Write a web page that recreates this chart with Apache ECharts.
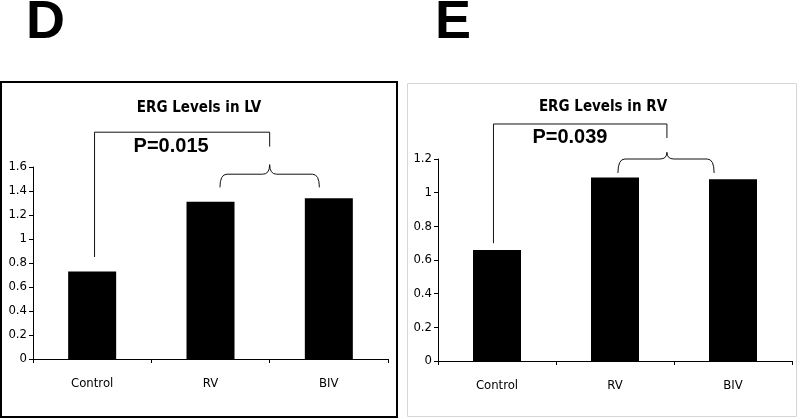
<!DOCTYPE html>
<html><head><meta charset="utf-8">
<script src="https://cdn.jsdelivr.net/npm/echarts@6/dist/echarts.min.js"></script>
<style>html,body{margin:0;padding:0;background:#fff}#c{width:800px;height:419px}</style>
</head><body><div id="c"></div>
<script>
// ---- data ----
const categories = ['Control', 'RV', 'BIV'];
const lvValues = [0.73, 1.31, 1.34];
const rvValues = [0.66, 1.09, 1.08];
const lvAxisMax = 1.6;
const rvAxisMax = 1.2;
const tickStep = 0.2;
const panelLetters = ['D', 'E'];
const panelTitles = ['ERG Levels in LV', 'ERG Levels in RV'];
const pLabels = ['P=0.015', 'P=0.039'];
// bracket annotations in data space: [top, leftDropBottom, rightDropBottom, braceTip, braceMid, braceEnd]
const lvBracketY = [1.89, 0.85, 1.77, 1.62, 1.54, 1.43];
const rvBracketY = [1.408, 0.70, 1.325, 1.24, 1.20, 1.117];
// bracket x in category units: [leftDrop, tip/rightDrop, braceStart, braceEnd]
const lvBracketX = [0.02, 1.5, 1.08, 1.92];
const rvBracketX = [-0.03, 1.44, 1.025, 1.84];
// p-label anchor (category units, value)
const lvPPos = [0.35, 1.77];
const rvPPos = [0.30, 1.325];

const narrow = "'Liberation Sans Narrow','Arial Narrow','DejaVu Sans Condensed',sans-serif";
const chart = echarts.init(document.getElementById('c'), null, {renderer: 'canvas'});

function yAxisCfg(idx, max) {
  return {
    type: 'value', gridIndex: idx, min: 0, max: max, interval: tickStep,
    axisLine: {show: true, lineStyle: {color: '#000', width: 1}},
    axisTick: {show: true, inside: false, length: 4, lineStyle: {color: '#000'}},
    splitLine: {show: false},
    axisLabel: {color: '#000', fontFamily: narrow, fontSize: 13, margin: 6}
  };
}
function xAxisCfg(idx) {
  return {
    type: 'category', gridIndex: idx, data: categories, boundaryGap: true,
    axisLine: {show: true, lineStyle: {color: '#000', width: 1}},
    axisTick: {show: true, alignWithLabel: false, length: 4, lineStyle: {color: '#000'}},
    axisLabel: {color: '#000', fontFamily: narrow, fontSize: 13, margin: 18}
  };
}

const option = {
  animation: false,
  backgroundColor: '#fff',
  title: [
    {text: panelTitles[0], left: 199, top: 101, textAlign: 'center', padding: 0,
     textStyle: {fontFamily: narrow, fontSize: 15, fontWeight: 'bold', color: '#000'}},
    {text: panelTitles[1], left: 603, top: 100, textAlign: 'center', padding: 0,
     textStyle: {fontFamily: narrow, fontSize: 15, fontWeight: 'bold', color: '#000'}}
  ],
  grid: [
    {left: 33, top: 167, width: 355, height: 192, containLabel: false},
    {left: 438, top: 159, width: 354, height: 202, containLabel: false}
  ],
  xAxis: [xAxisCfg(0), xAxisCfg(1)],
  yAxis: [yAxisCfg(0, lvAxisMax), yAxisCfg(1, rvAxisMax)],
  series: [
    {type: 'bar', xAxisIndex: 0, yAxisIndex: 0, data: lvValues, barWidth: 48, itemStyle: {color: '#000'}},
    {type: 'bar', xAxisIndex: 1, yAxisIndex: 1, data: rvValues, barWidth: 48, itemStyle: {color: '#000'}}
  ]
};
chart.setOption(option);

function px(grid, cx, val) {
  const a = chart.convertToPixel({gridIndex: grid}, [0, val]);
  const b = chart.convertToPixel({gridIndex: grid}, [1, val]);
  return [a[0] + (b[0] - a[0]) * cx, a[1]];
}
function bracketGraphics(grid, bx, by) {
  const st = {stroke: '#111', lineWidth: 1, fill: null};
  const L = px(grid, bx[0], by[0]);
  const R = px(grid, bx[1], by[0]);
  const Lb = px(grid, bx[0], by[1]);
  const Rb = px(grid, bx[1], by[2]);
  const tip = px(grid, bx[1], by[3]);
  const m = px(grid, 0, by[4])[1];
  const en = px(grid, 0, by[5])[1];
  const s = px(grid, bx[2], 0)[0];
  const e = px(grid, bx[3], 0)[0];
  const t = tip[0];
  const k = 7;
  const q = (x1, y1, cx, cy, x2, y2) => ({type: 'bezierCurve', silent: true, style: st,
    shape: {x1: x1, y1: y1, x2: x2, y2: y2, cpx1: cx, cpy1: cy}});
  const ln = (x1, y1, x2, y2) => ({type: 'line', silent: true, style: st,
    shape: {x1: x1, y1: y1, x2: x2, y2: y2}});
  return [
    {type: 'polyline', shape: {points: [[Lb[0], Lb[1]], [L[0], L[1]], [R[0], R[1]], [Rb[0], Rb[1]]]}, style: st, silent: true},
    q(s, en, s, m, s + k, m),
    ln(s + k, m, t - k, m),
    q(t - k, m, t, m, t, tip[1]),
    q(t, tip[1], t, m, t + k, m),
    ln(t + k, m, e - k, m),
    q(e - k, m, e, m, e, en)
  ];
}
function pText(grid, pos, text) {
  const p = px(grid, pos[0], pos[1]);
  return {type: 'text', x: p[0], y: p[1], silent: true,
    style: {text: text, fill: '#000', font: 'bold 20px "Liberation Sans", Arial, sans-serif', align: 'left', verticalAlign: 'middle'}};
}

const graphics = [
  {type: 'rect', shape: {x: 1, y: 82, width: 396, height: 335}, style: {fill: null, stroke: '#000', lineWidth: 2}, silent: true, z: 0},
  {type: 'rect', shape: {x: 407.5, y: 83.5, width: 389, height: 333}, style: {fill: null, stroke: '#d6d6d6', lineWidth: 1}, silent: true, z: 0},
  {type: 'text', x: 26, y: -4, silent: true, style: {text: panelLetters[0], fill: '#000', font: 'bold 54px "Liberation Sans", Arial, sans-serif', align: 'left', verticalAlign: 'top'}},
  {type: 'text', x: 435, y: -4, silent: true, style: {text: panelLetters[1], fill: '#000', font: 'bold 54px "Liberation Sans", Arial, sans-serif', align: 'left', verticalAlign: 'top'}},
  pText(0, lvPPos, pLabels[0]),
  pText(1, rvPPos, pLabels[1])
].concat(bracketGraphics(0, lvBracketX, lvBracketY), bracketGraphics(1, rvBracketX, rvBracketY));

chart.setOption({graphic: graphics});
</script>
</body></html>
